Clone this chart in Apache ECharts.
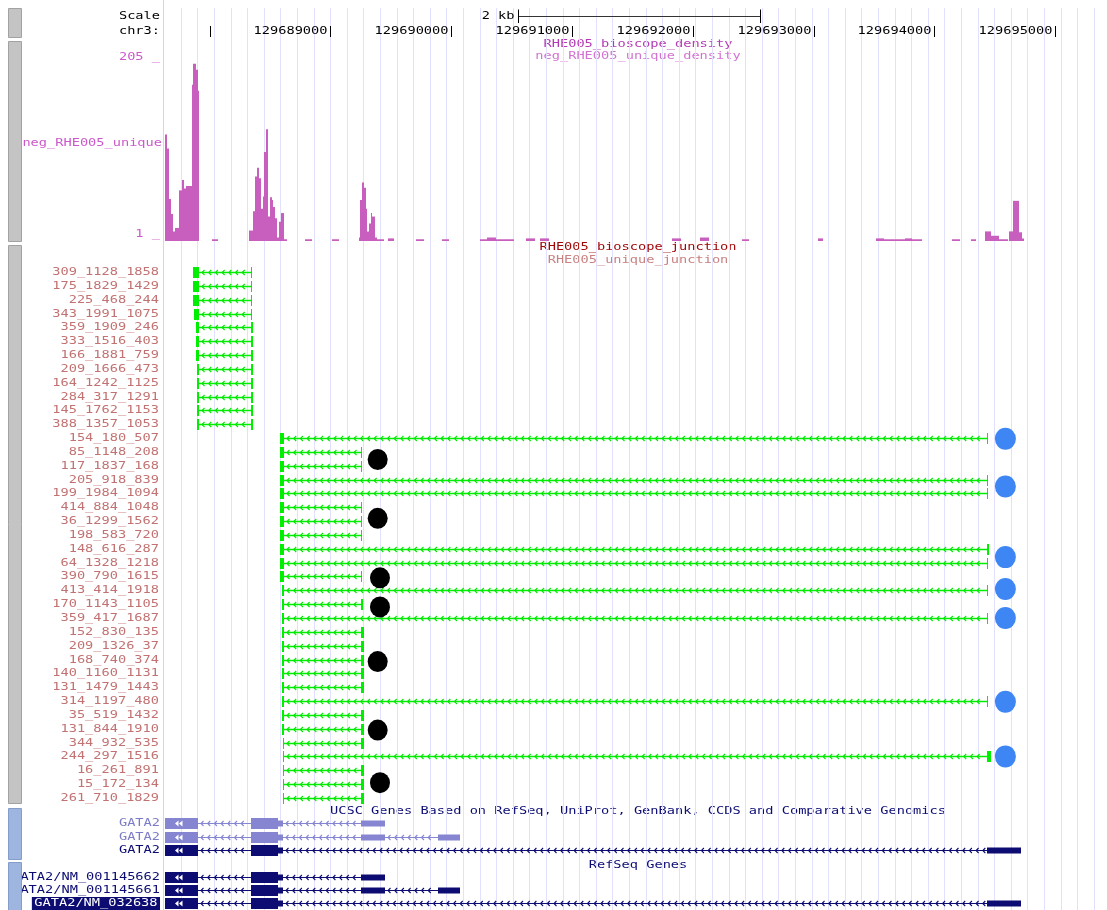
<!DOCTYPE html>
<html>
<head>
<meta charset="utf-8">
<title>GATA2 junctions - chr3</title>
<script src="https://cdn.jsdelivr.net/npm/echarts@6/dist/echarts.min.js"></script>
<style>
  html, body { margin: 0; padding: 0; background: #fff; }
  #chart { width: 1107px; height: 910px; }
</style>
</head>
<body>
<div id="chart"></div>
<script>
// ---- genomic window (chr3) ----
const VIEW_START = 129687614;
const VIEW_END = 129695428;

// ---- ruler ----
const rulerTicks = [129688000, 129689000, 129690000, 129691000, 129692000, 129693000, 129694000, 129695000];
const rulerTickLabels = ['129688000', '129689000', '129690000', '129691000', '129692000', '129693000', '129694000', '129695000'];
const scaleBar = [129690553, 129692553];
const scaleBarLabel = '2 kb';

// ---- density track: [start, end, value] ----
const densityMax = 205;
const densityScaleLabels = ['205 _', '1 _'];
const densitySegments = [
  [129687631, 129687650, 122], [129687650, 129687666, 106], [129687666, 129687680, 48],
  [129687680, 129687694, 31], [129687694, 129687713, 11], [129687713, 129687746, 15],
  [129687746, 129687769, 58], [129687769, 129687788, 70], [129687788, 129687804, 60],
  [129687804, 129687852, 63], [129687852, 129687865, 179], [129687865, 129687885, 203],
  [129687885, 129687901, 196], [129687901, 129687906, 172], [129687906, 129687915, 2],
  [129688017, 129688072, 2],
  [129688328, 129688362, 12], [129688362, 129688378, 34], [129688378, 129688395, 74],
  [129688395, 129688409, 84], [129688409, 129688423, 72], [129688423, 129688439, 37],
  [129688439, 129688453, 51], [129688453, 129688467, 102], [129688467, 129688486, 128],
  [129688486, 129688500, 28], [129688500, 129688514, 50], [129688514, 129688527, 47],
  [129688527, 129688541, 39], [129688541, 129688560, 26], [129688560, 129688577, 4],
  [129688577, 129688593, 22], [129688593, 129688616, 32], [129688616, 129688638, 2],
  [129688790, 129688845, 2], [129689016, 129689071, 2],
  [129689236, 129689245, 4], [129689245, 129689259, 47], [129689259, 129689278, 67],
  [129689278, 129689292, 61], [129689292, 129689305, 37], [129689305, 129689319, 11],
  [129689319, 129689333, 20], [129689333, 129689347, 32], [129689347, 129689369, 28],
  [129689369, 129689388, 4], [129689388, 129689443, 2], [129689477, 129689526, 3],
  [129689708, 129689775, 2], [129689924, 129689982, 2], [129690238, 129690296, 2],
  [129690296, 129690371, 4], [129690371, 129690520, 2], [129690619, 129690693, 3],
  [129690735, 129690809, 3], [129691828, 129691902, 3], [129692059, 129692134, 4],
  [129692407, 129692465, 2], [129693036, 129693078, 3], [129693516, 129693582, 3],
  [129693582, 129693756, 2], [129693756, 129693814, 3], [129693814, 129693897, 2],
  [129694145, 129694212, 2], [129694303, 129694344, 2], [129694419, 129694468, 11],
  [129694468, 129694534, 6], [129694534, 129694609, 2], [129694617, 129694650, 11],
  [129694650, 129694700, 46], [129694700, 129694725, 10], [129694725, 129694741, 3]
];

// ---- junction track ----
const junctionNames = [
  '309_1128_1858', '175_1829_1429', '225_468_244', '343_1991_1075', '359_1909_246',
  '333_1516_403', '166_1881_759', '209_1666_473', '164_1242_1125', '284_317_1291',
  '145_1762_1153', '388_1357_1053', '154_180_507', '85_1148_208', '117_1837_168',
  '205_918_839', '199_1984_1094', '414_884_1048', '36_1299_1562', '198_583_720',
  '148_616_287', '64_1328_1218', '390_790_1615', '413_414_1918', '170_1143_1105',
  '359_417_1687', '152_830_135', '209_1326_37', '168_740_374', '140_1160_1131',
  '131_1479_1443', '314_1197_480', '35_519_1432', '131_844_1910', '344_932_535',
  '244_297_1516', '16_261_891', '15_172_134', '261_710_1829'
];
const junctionStart = [
  129687860, 129687860, 129687860, 129687873, 129687885, 129687885, 129687885,
  129687896, 129687896, 129687896, 129687896, 129687896,
  129688583, 129688583, 129688583, 129688583, 129688583, 129688583, 129688583,
  129688583, 129688583, 129688583, 129688583,
  129688597, 129688597, 129688597, 129688597, 129688597, 129688597, 129688597,
  129688597, 129688597, 129688597, 129688597,
  129688605, 129688605, 129688605, 129688605, 129688605
];
const junctionEnd = [
  129688351, 129688351, 129688351, 129688351, 129688362, 129688362, 129688362,
  129688362, 129688362, 129688362, 129688362, 129688362,
  129694446, 129689261, 129689261, 129694446, 129694446, 129689261, 129689261,
  129689261, 129694454, 129694446, 129689261,
  129694446, 129689267, 129694446, 129689278, 129689278, 129689278, 129689278,
  129689278, 129694446, 129689278, 129689278,
  129689278, 129694466, 129689278, 129689278, 129689278
];
const junctionLeftBlock = [
  48, 48, 48, 35, 23, 23, 23, 12, 12, 12, 12, 12,
  29, 29, 29, 29, 29, 29, 29, 29, 29, 29, 29,
  15, 15, 15, 15, 15, 15, 15, 15, 15, 15, 15,
  11, 11, 11, 11, 11
];
const junctionRightBlock = [
  8, 8, 8, 8, 19, 19, 19, 19, 19, 19, 19, 19,
  8, 8, 8, 8, 8, 8, 8, 8, 16, 8, 8,
  8, 14, 8, 25, 25, 25, 25, 25, 8, 25, 25,
  25, 28, 25, 25, 25
];

// markers beside the junction rows: [position, row]
const blackDots = [
  [129689391, 14.55], [129689391, 18.8], [129689410, 23.1], [129689410, 25.2],
  [129689391, 29.15], [129689391, 34.1], [129689410, 37.9]
];
const blueDots = [
  [129694587, 13.05], [129694587, 16.5], [129694587, 21.6], [129694587, 23.9],
  [129694587, 26.0], [129694587, 32.05], [129694587, 36.0]
];

// ---- gene models: [start, end, coding(1) / utr(0)] ----
const exonsShort = [[129687631, 129687906, 1], [129688342, 129688568, 1], [129688568, 129688611, 0], [129689251, 129689452, 0]];
const exonsMid = [[129687631, 129687906, 1], [129688342, 129688568, 1], [129688568, 129688611, 0], [129689251, 129689452, 0], [129689893, 129690070, 0]];
const exonsLong = [[129687631, 129687906, 1], [129688342, 129688568, 1], [129688568, 129688611, 0], [129694438, 129694716, 0]];
const geneLabels = ['GATA2', 'GATA2', 'GATA2', 'GATA2/NM_001145662', 'GATA2/NM_001145661', 'GATA2/NM_032638'];
const geneModels = [exonsShort, exonsMid, exonsLong, exonsShort, exonsMid, exonsLong];
const geneRows = [1, 2, 3, 5, 6, 7];

// ---- styling ----
const FONT_SIZE = 11;
const FONT = FONT_SIZE + 'px "DejaVu Sans Mono", "Liberation Mono", monospace';
const TEXT_SX = 1.24;
const GREEN = '#00ee00';
const GREEN_ARROW = '#00e600';
const DENSITY_COLOR = '#c85fbe';
const NAVY = '#0c0c73';
const LIGHT_GENE = '#8585d2';
const geneStyle = [
  { fill: LIGHT_GENE, label: '#7b7bc6' },
  { fill: LIGHT_GENE, label: '#7b7bc6' },
  { fill: NAVY, label: NAVY },
  { fill: NAVY, label: NAVY },
  { fill: NAVY, label: NAVY },
  { fill: NAVY, label: NAVY, highlight: true }
];
const ARROW_STEP = 6.7;

function txt(x, y, text, fill, align, extra) {
  const style = Object.assign({
    text: text, fill: fill, textFill: fill, font: FONT,
    align: align, textAlign: align, verticalAlign: 'middle', textVerticalAlign: 'middle'
  }, extra || {});
  return { type: 'text', x: x, y: y, scaleX: TEXT_SX, silent: true, style: style };
}

function chevrons(x0, x1, y, color) {
  const out = [];
  for (let x = x0; x < x1; x += ARROW_STEP) {
    out.push({
      type: 'polyline',
      shape: { points: [[x + 2.5, y - 2.5], [x, y], [x + 2.5, y + 2.5]] },
      style: { stroke: color, lineWidth: 1.1, fill: null }
    });
  }
  return out;
}

const genomicAxis = (gridIndex) => ({
  type: 'value', gridIndex: gridIndex, min: VIEW_START, max: VIEW_END, show: false
});

const chart = echarts.init(document.getElementById('chart'), null, { renderer: 'canvas' });

const option = {
  animation: false,
  backgroundColor: '#ffffff',
  grid: [
    { left: 181, top: 8, width: 913, height: 902 },          // guide lines
    { left: 163, top: 8, width: 944, height: 30 },           // ruler
    { left: 163, top: 62, width: 944, height: 179 },         // density
    { left: 163, top: 265.08, width: 944, height: 539.76 },  // junctions
    { left: 163, top: 816.8, width: 944, height: 96.6 }      // genes
  ],
  xAxis: [
    {
      type: 'value', gridIndex: 0, min: 0, max: 55, interval: 1,
      axisLine: { show: false }, axisTick: { show: false }, axisLabel: { show: false },
      splitLine: { show: true, lineStyle: { color: '#e1e1fd', width: 1 } }
    },
    genomicAxis(1), genomicAxis(2), genomicAxis(3), genomicAxis(4)
  ],
  yAxis: [
    { type: 'value', gridIndex: 0, min: 0, max: 1, show: false },
    { type: 'value', gridIndex: 1, min: 0, max: 1, show: false },
    { type: 'value', gridIndex: 2, min: 0, max: densityMax, show: false },
    { type: 'value', gridIndex: 3, min: 0.5, max: junctionNames.length + 0.5, inverse: true, show: false },
    { type: 'value', gridIndex: 4, min: 0.5, max: 7.5, inverse: true, show: false }
  ],
  series: [
    // position ruler
    {
      type: 'custom', xAxisIndex: 1, yAxisIndex: 1, silent: true,
      data: rulerTicks.map(p => [p, 0]),
      renderItem: function (params, api) {
        const cs = params.coordSys;
        const x = Math.round(api.coord([api.value(0), 0])[0]) + 0.5;
        const label = rulerTickLabels[params.dataIndex];
        const children = [{
          type: 'line', shape: { x1: x, y1: cs.y + 18, x2: x, y2: cs.y + 29 },
          style: { stroke: '#000', lineWidth: 1 }
        }];
        const w = label.length * FONT_SIZE * 0.602 * TEXT_SX;
        if (x - 3 - w >= cs.x) children.push(txt(x - 3, cs.y + 23.5, label, '#000', 'right'));
        return { type: 'group', children: children };
      }
    },
    // 2 kb scale bar
    {
      type: 'custom', xAxisIndex: 1, yAxisIndex: 1, silent: true,
      data: [[scaleBar[0], 0, scaleBar[1]]],
      renderItem: function (params, api) {
        const cs = params.coordSys;
        const x0 = Math.round(api.coord([api.value(0), 0])[0]) + 0.5;
        const x1 = Math.round(api.coord([api.value(2), 0])[0]) + 0.5;
        const y = cs.y + 8.5;
        return {
          type: 'group', children: [
            { type: 'line', shape: { x1: x0, y1: y, x2: x1, y2: y }, style: { stroke: '#333', lineWidth: 1 } },
            { type: 'line', shape: { x1: x0, y1: cs.y + 1.5, x2: x0, y2: cs.y + 15 }, style: { stroke: '#000', lineWidth: 1 } },
            { type: 'line', shape: { x1: x1, y1: cs.y + 1.5, x2: x1, y2: cs.y + 15 }, style: { stroke: '#000', lineWidth: 1 } },
            txt(x0 - 4, cs.y + 8, scaleBarLabel, '#000', 'right')
          ]
        };
      }
    },
    // coverage density
    {
      type: 'custom', xAxisIndex: 2, yAxisIndex: 2, silent: true,
      data: densitySegments.map(d => [d[0], d[2], d[1]]),
      renderItem: function (params, api) {
        const top = api.coord([api.value(0), api.value(1)]);
        const base = api.coord([api.value(2), 0]);
        const left = Math.round(top[0]);
        const right = Math.max(Math.round(base[0]), left + 1);
        return {
          type: 'rect',
          shape: { x: left, y: top[1], width: right - left, height: base[1] - top[1] },
          style: { fill: DENSITY_COLOR }
        };
      }
    },
    // splice junctions
    {
      type: 'custom', xAxisIndex: 3, yAxisIndex: 3, silent: true,
      data: junctionStart.map((s, i) => [s, i + 1, junctionEnd[i], junctionLeftBlock[i], junctionRightBlock[i]]),
      renderItem: function (params, api) {
        const cs = params.coordSys;
        const s = api.value(0), row = api.value(1), e = api.value(2);
        const lb = api.value(3), rb = api.value(4);
        const yc = Math.round(api.coord([s, row])[1]);
        const xs = Math.round(api.coord([s, row])[0]);
        const xe = Math.round(api.coord([e, row])[0]);
        const xl = Math.max(Math.round(api.coord([s + lb, row])[0]), xs + 1);
        const xr = Math.min(Math.round(api.coord([e - rb, row])[0]), xe - 1);
        const h = 11;
        const children = [
          { type: 'line', shape: { x1: xl, y1: yc + 0.5, x2: xr, y2: yc + 0.5 }, style: { stroke: GREEN, lineWidth: 1.6 } },
          { type: 'rect', shape: { x: xs, y: yc - 5, width: xl - xs, height: h }, style: { fill: GREEN } },
          { type: 'rect', shape: { x: xr, y: yc - 5, width: xe - xr, height: h }, style: { fill: GREEN } }
        ].concat(chevrons(xl + 3, xr - 4, yc + 0.5, GREEN_ARROW));
        children.push(txt(cs.x - 4, yc + 0.5, junctionNames[params.dataIndex], '#c27272', 'right'));
        return { type: 'group', children: children };
      }
    },
    {
      type: 'scatter', xAxisIndex: 3, yAxisIndex: 3, silent: true,
      symbol: 'circle', symbolSize: [20, 21],
      itemStyle: { color: '#000000', opacity: 1 },
      data: blackDots
    },
    {
      type: 'scatter', xAxisIndex: 3, yAxisIndex: 3, silent: true,
      symbol: 'circle', symbolSize: [21, 22],
      itemStyle: { color: '#3d86f4', opacity: 1 },
      data: blueDots
    },
    // gene models
    {
      type: 'custom', xAxisIndex: 4, yAxisIndex: 4, silent: true,
      data: geneModels.map((m, i) => [m[0][0], geneRows[i]]),
      renderItem: function (params, api) {
        const cs = params.coordSys;
        const idx = params.dataIndex;
        const row = api.value(1);
        const model = geneModels[idx];
        const st = geneStyle[idx];
        const px = p => Math.round(api.coord([p, row])[0]);
        const yc = Math.round(api.coord([model[0][0], row])[1]);
        const children = [{
          type: 'line',
          shape: { x1: px(model[0][0]), y1: yc + 0.5, x2: px(model[model.length - 1][1]), y2: yc + 0.5 },
          style: { stroke: st.fill, lineWidth: 1 }
        }];
        for (let k = 0; k + 1 < model.length; k++) {
          const a = px(model[k][1]), b = px(model[k + 1][0]);
          if (b - a > 8) children.push.apply(children, chevrons(a + 3, b - 4, yc + 0.5, st.fill));
        }
        model.forEach(ex => {
          const h = ex[2] ? 11 : 6;
          const x0 = px(ex[0]), x1 = Math.max(px(ex[1]), x0 + 1);
          children.push({ type: 'rect', shape: { x: x0, y: yc + 0.5 - h / 2, width: x1 - x0, height: h }, style: { fill: st.fill } });
        });
        // strand arrows inside the clipped first exon
        const fx = px(model[0][0]) + 10;
        [0, 4].forEach(dx => {
          children.push({
            type: 'polygon',
            shape: { points: [[fx + dx + 3.5, yc - 2.5], [fx + dx, yc + 0.5], [fx + dx + 3.5, yc + 3.5]] },
            style: { fill: '#ffffff' }
          });
        });
        const extra = st.highlight
          ? { backgroundColor: NAVY, textBackgroundColor: NAVY, padding: [1, 2, 1, 2], textPadding: [1, 2, 1, 2], fill: '#ffffff', textFill: '#ffffff' }
          : null;
        children.push(txt(cs.x - 3, yc + 0.5, geneLabels[idx], st.label, 'right', extra));
        return { type: 'group', children: children };
      }
    }
  ],
  graphic: {
    elements: [
      // data-area border on the left
      { type: 'line', shape: { x1: 163.5, y1: 0, x2: 163.5, y2: 910 }, style: { stroke: '#ffc6c6', lineWidth: 1 }, z: 1, silent: true },
      // header
      txt(160, 16, 'Scale', '#000', 'right'),
      txt(160, 31.5, 'chr3:', '#000', 'right'),
      // density track captions
      txt(638, 44, 'RHE005_bioscope_density', '#b43ab4', 'center'),
      txt(638, 56.5, 'neg_RHE005_unique_density', '#d273d2', 'center'),
      txt(160, 57.5, densityScaleLabels[0], '#cc58cc', 'right'),
      txt(160, 234.5, densityScaleLabels[1], '#cc58cc', 'right'),
      txt(162, 143, 'neg_RHE005_unique', '#cc58cc', 'right'),
      // junction track captions
      txt(638, 247, 'RHE005_bioscope_junction', '#a00808', 'center'),
      txt(638, 260, 'RHE005_unique_junction', '#c98282', 'center'),
      // gene track captions
      txt(638, 811.5, 'UCSC Genes Based on RefSeq, UniProt, GenBank, CCDS and Comparative Genomics', NAVY, 'center'),
      txt(638, 865.5, 'RefSeq Genes', NAVY, 'center'),
      // track side buttons
      { type: 'rect', shape: { x: 8.5, y: 8.5, width: 13, height: 29 }, style: { fill: '#c4c4c4', stroke: '#a2a2a2', lineWidth: 1 }, z: 100, silent: true },
      { type: 'rect', shape: { x: 8.5, y: 41.5, width: 13, height: 200 }, style: { fill: '#c4c4c4', stroke: '#a2a2a2', lineWidth: 1 }, z: 100, silent: true },
      { type: 'rect', shape: { x: 8.5, y: 245.5, width: 13, height: 558 }, style: { fill: '#c4c4c4', stroke: '#a2a2a2', lineWidth: 1 }, z: 100, silent: true },
      { type: 'rect', shape: { x: 8.5, y: 808.5, width: 13, height: 51 }, style: { fill: '#9db5df', stroke: '#849dcb', lineWidth: 1 }, z: 100, silent: true },
      { type: 'rect', shape: { x: 8.5, y: 862.5, width: 13, height: 52 }, style: { fill: '#9db5df', stroke: '#849dcb', lineWidth: 1 }, z: 100, silent: true },
      // cover for label text spilling left of the buttons
      { type: 'rect', shape: { x: 0, y: 0, width: 8, height: 910 }, style: { fill: '#ffffff' }, z: 99, silent: true }
    ]
  }
};

chart.setOption(option);
</script>
</body>
</html>
